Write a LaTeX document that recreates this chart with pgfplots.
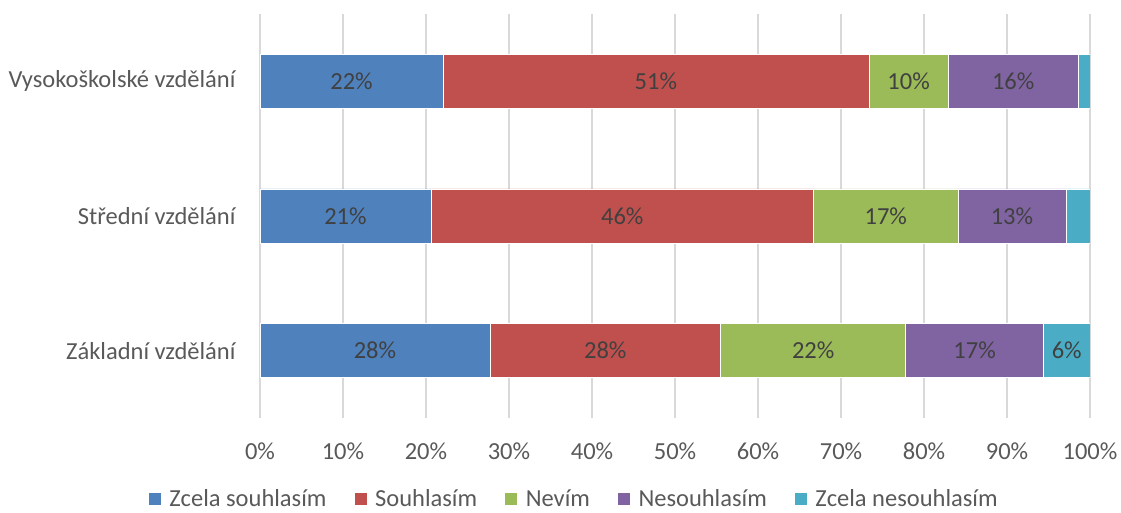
\documentclass[border=0pt]{standalone}
\usepackage{pgfplots}
\pgfplotsset{compat=1.18}
\usepackage{fontspec}
\setmainfont{Carlito}
\definecolor{cBlue}{HTML}{4F81BD}
\definecolor{cRed}{HTML}{C0504D}
\definecolor{cGreen}{HTML}{9BBB59}
\definecolor{cPurple}{HTML}{8064A2}
\definecolor{cCyan}{HTML}{4BACC6}
\definecolor{cGrid}{HTML}{D9D9D9}
\definecolor{cTick}{HTML}{595959}
\definecolor{cLabel}{HTML}{404040}
\newcommand{\chartfont}{\fontsize{24.5bp}{29bp}\selectfont}
\begin{document}
\begin{tikzpicture}
\useasboundingbox (0,0) rectangle (1121bp,513bp);
\begin{axis}[
  at={(260bp,95bp)}, anchor=south west,
  scale only axis, width=830bp, height=404bp,
  xbar stacked, bar width=54bp,
  xmin=0, xmax=100, ymin=-0.5, ymax=2.5,
  axis line style={draw=none},
  major tick length=0pt,
  xmajorgrids, grid style={cGrid, line width=1.5bp},
  xtick={0,10,...,100},
  xticklabels={0\%,10\%,20\%,30\%,40\%,50\%,60\%,70\%,80\%,90\%,100\%},
  ytick={0,1,2},
  yticklabels={Základní vzdělání, Střední vzdělání, Vysokoškolské vzdělání},
  xticklabel style={font=\chartfont, text=cTick, anchor=base, yshift=-41bp},
  yticklabel style={font=\chartfont, text=cTick, anchor=east, xshift=-21bp},
  point meta=explicit symbolic,
  nodes near coords,
  every node near coord/.append style={anchor=center,
    font=\chartfont, text=cLabel},
  legend columns=5,
  legend style={draw=none, fill=none, at={(0.378,-0.2)}, anchor=center,
    font=\chartfont, text=cTick,
    /tikz/every even column/.append style={column sep=25bp}},
  legend cell align=left,
  legend image code/.code={\fill[#1] (-7bp,-6.5bp) rectangle (6bp,6.5bp);
    \path (6bp,0bp) -- (12bp,0bp);},
]
\addplot[fill=cBlue, draw=white, line width=0.6bp] coordinates
  {(27.7,0) [28\%] (20.6,1) [21\%] (22.05,2) [22\%]};
\addplot[fill=cRed, draw=white, line width=0.6bp] coordinates
  {(27.8,0) [28\%] (46.1,1) [46\%] (51.3,2) [51\%]};
\addplot[fill=cGreen, draw=white, line width=0.6bp] coordinates
  {(22.3,0) [22\%] (17.4,1) [17\%] (9.6,2) [10\%]};
\addplot[fill=cPurple, draw=white, line width=0.6bp] coordinates
  {(16.6,0) [17\%] (13.0,1) [13\%] (15.6,2) [16\%]};
\addplot[fill=cCyan, draw=white, line width=0.6bp] coordinates
  {(5.6,0) [6\%] (2.9,1) [] (1.45,2) []};
\legend{Zcela souhlasím, Souhlasím, Nevím, Nesouhlasím, Zcela nesouhlasím}
\end{axis}
\end{tikzpicture}
\end{document}
